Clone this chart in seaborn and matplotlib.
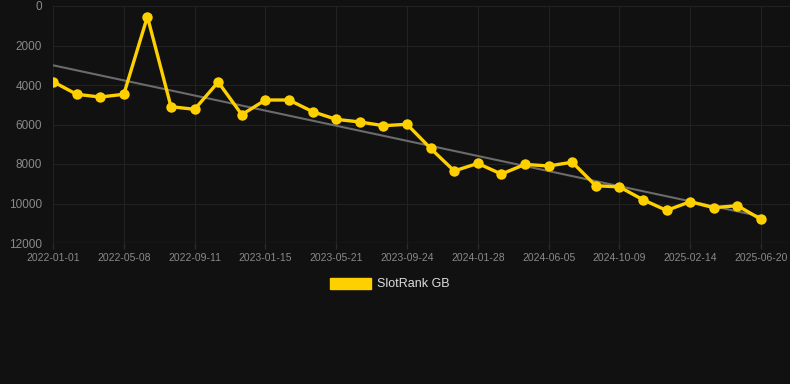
import numpy as np
import pandas as pd
import matplotlib
matplotlib.use("Agg")
import matplotlib.pyplot as plt
from matplotlib.patches import Patch
import seaborn as sns

tick_labels = ["2022-01-01", "2022-05-08", "2022-09-11", "2023-01-15", "2023-05-21",
               "2023-09-24", "2024-01-28", "2024-06-05", "2024-10-09", "2025-02-14",
               "2025-06-20"]
rank_gb = [3830, 4470, 4610, 4470, 540, 5100, 5230, 3850, 5500, 4760,
           4760, 5350, 5740, 5870, 6060, 5990, 7210, 8350, 7970, 8510,
           8020, 8100, 7910, 9100, 9160, 9810, 10350, 9910, 10210, 10110,
           10800]
series_name = "SlotRank GB"

idx = np.arange(len(rank_gb))
df = pd.DataFrame({"idx": idx, "rank": rank_gb})

sns.set_theme(style="dark")
plt.rcParams['font.family'] = ['Liberation Sans', 'DejaVu Sans']

bg = "#111111"
fig = plt.figure(figsize=(7.9, 3.84), dpi=100, facecolor=bg)
ax = fig.add_axes([53/790, 1-243/384, 1-53/790, (243-6)/384])
ax.set_facecolor(bg)

# trend line (linear fit)
coef = np.polyfit(idx, rank_gb, 1)
trend = np.polyval(coef, idx)
sns.lineplot(x=idx, y=trend, ax=ax, color="#6b6b6b", linewidth=1.5, zorder=2)

sns.lineplot(data=df, x="idx", y="rank", ax=ax, color="#FFD000", linewidth=2.4,
             marker="o", markersize=7.5, markeredgewidth=0, zorder=3)

step = 23.6
ax.set_xlim(0, 30 + (790-761)/step)
ax.set_ylim(12000, 0)
ax.set_yticks(np.arange(0, 12001, 2000))
ax.set_yticklabels([str(v) for v in range(0, 12001, 2000)])
ax.set_xticks(idx[::3])
ax.set_xticklabels(tick_labels)
ax.set_xlabel("")
ax.set_ylabel("")

ax.grid(True, color="#222222", linewidth=0.8)
for s in ax.spines.values():
    s.set_visible(False)
ax.axhline(12000, color="#2a2a2a", linewidth=1, zorder=1)
ax.tick_params(axis="x", colors="#2a2a2a", length=4, width=1, labelcolor="#8a8a8a",
               labelsize=7.5, pad=3, bottom=True)
ax.tick_params(axis="y", colors="#111111", length=0, labelcolor="#8a8a8a",
               labelsize=8.5, pad=8)

handle = Patch(facecolor="#FFD000", edgecolor="#FFD000")
fig.legend([handle], [series_name], loc="center", bbox_to_anchor=(390/790, 1-284/384),
           frameon=False, handlelength=3.3, handleheight=1.0, handletextpad=0.5,
           labelcolor="#dddddd", fontsize=9)

fig.savefig("out.png", dpi=100, facecolor=bg)
